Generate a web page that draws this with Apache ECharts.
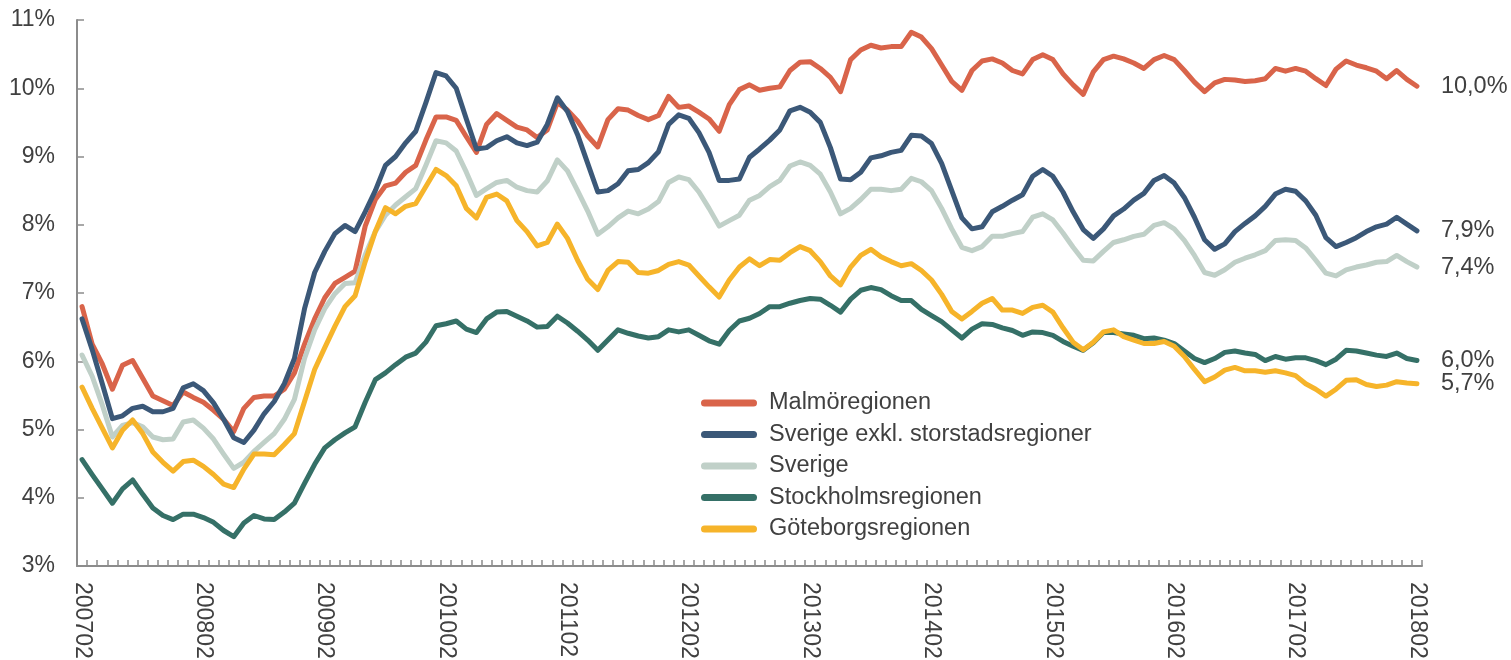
<!DOCTYPE html>
<html>
<head>
<meta charset="utf-8">
<script src="https://cdn.jsdelivr.net/npm/echarts@6/dist/echarts.min.js"></script>
<style>
html,body{margin:0;padding:0;background:#fff;}
#chart{width:1511px;height:660px;}
</style>
</head>
<body>
<div id="chart"></div>
<script>
// Monthly categories 200702 .. 201802
const categories = [];
for (let y = 2007, m = 2; y < 2018 || (y === 2018 && m <= 2); ) {
  categories.push(String(y) + String(m).padStart(2, '0'));
  m++; if (m > 12) { m = 1; y++; }
}

const seriesNames = ['Malmöregionen', 'Sverige exkl. storstadsregioner', 'Sverige', 'Stockholmsregionen', 'Göteborgsregionen'];

const malmo = [
  6.80, 6.25, 5.96, 5.59, 5.94, 6.01, 5.75, 5.49, 5.42, 5.35, 5.55, 5.47, 5.40, 5.28, 5.15, 4.97,
  5.31, 5.47, 5.49, 5.49, 5.59, 5.83, 6.25, 6.62, 6.93, 7.14, 7.23, 7.32, 7.98, 8.37, 8.57, 8.61, 8.77,
  8.87, 9.24, 9.58, 9.58, 9.53, 9.29, 9.06, 9.47, 9.63, 9.53, 9.43, 9.39, 9.28, 9.39, 9.79, 9.68, 9.52,
  9.30, 9.14, 9.54, 9.70, 9.68, 9.60, 9.54, 9.60, 9.88, 9.72, 9.74, 9.65, 9.55, 9.37, 9.76, 9.98, 10.05,
  9.97, 10.00, 10.02, 10.26, 10.38, 10.39, 10.29, 10.16, 9.95, 10.42, 10.56, 10.63, 10.59, 10.61, 10.61, 10.82, 10.75,
  10.58, 10.34, 10.10, 9.97, 10.26, 10.40, 10.43, 10.37, 10.26, 10.21, 10.42, 10.49, 10.42, 10.21, 10.05, 9.91, 10.24,
  10.42, 10.47, 10.43, 10.37, 10.29, 10.42, 10.48, 10.42, 10.26, 10.09, 9.95, 10.08, 10.13, 10.12, 10.10, 10.11,
  10.14, 10.29, 10.25, 10.29, 10.25, 10.14, 10.04, 10.28, 10.40, 10.34, 10.30, 10.25, 10.14, 10.26, 10.13, 10.03
];

const exklStorstad = [
  6.62, 6.17, 5.67, 5.16, 5.20, 5.31, 5.34, 5.26, 5.26, 5.31, 5.61, 5.67, 5.57, 5.39, 5.15, 4.88,
  4.81, 4.99, 5.23, 5.41, 5.67, 6.04, 6.77, 7.30, 7.61, 7.87, 7.99, 7.90, 8.19, 8.50, 8.87, 9.00, 9.20,
  9.37, 9.79, 10.23, 10.18, 10.00, 9.55, 9.11, 9.13, 9.23, 9.29, 9.20, 9.16, 9.21, 9.47, 9.86, 9.66, 9.32,
  8.90, 8.48, 8.50, 8.60, 8.79, 8.81, 8.91, 9.07, 9.47, 9.61, 9.56, 9.35, 9.06, 8.65, 8.65, 8.67, 8.99,
  9.11, 9.24, 9.39, 9.67, 9.72, 9.65, 9.50, 9.13, 8.67, 8.66, 8.77, 8.98, 9.01, 9.06, 9.09, 9.31, 9.30,
  9.19, 8.90, 8.50, 8.10, 7.94, 7.97, 8.19, 8.27, 8.36, 8.44, 8.71, 8.81, 8.71, 8.48, 8.19, 7.93, 7.80,
  7.94, 8.13, 8.23, 8.36, 8.46, 8.65, 8.72, 8.61, 8.40, 8.11, 7.78, 7.64, 7.72, 7.90, 8.02, 8.13,
  8.27, 8.45, 8.52, 8.49, 8.35, 8.14, 7.81, 7.68, 7.74, 7.81, 7.90, 7.97, 8.01, 8.11, 8.01, 7.91
];

const sverige = [
  6.09, 5.78, 5.36, 4.89, 5.06, 5.10, 5.04, 4.89, 4.85, 4.86, 5.11, 5.14, 5.02, 4.86, 4.64, 4.43,
  4.52, 4.68, 4.81, 4.94, 5.15, 5.44, 6.04, 6.46, 6.77, 6.99, 7.14, 7.15, 7.56, 7.90, 8.14, 8.29, 8.41,
  8.53, 8.87, 9.23, 9.20, 9.08, 8.77, 8.43, 8.53, 8.62, 8.65, 8.55, 8.50, 8.48, 8.64, 8.95, 8.79, 8.50,
  8.20, 7.86, 7.97, 8.10, 8.20, 8.16, 8.23, 8.34, 8.62, 8.70, 8.66, 8.48, 8.24, 7.98, 8.06, 8.14, 8.36,
  8.43, 8.56, 8.65, 8.86, 8.92, 8.87, 8.74, 8.48, 8.16, 8.24, 8.37, 8.52, 8.52, 8.50, 8.52, 8.68, 8.63,
  8.50, 8.24, 7.94, 7.67, 7.62, 7.68, 7.83, 7.83, 7.87, 7.90, 8.11, 8.16, 8.07, 7.88, 7.67, 7.48, 7.47,
  7.61, 7.74, 7.78, 7.83, 7.86, 7.99, 8.03, 7.94, 7.77, 7.55, 7.30, 7.26, 7.34, 7.45, 7.51, 7.56,
  7.62, 7.77, 7.78, 7.77, 7.66, 7.48, 7.29, 7.25, 7.34, 7.38, 7.41, 7.45, 7.46, 7.55, 7.46, 7.38
];

const stockholm = [
  4.56, 4.34, 4.13, 3.92, 4.13, 4.26, 4.05, 3.85, 3.74, 3.68, 3.76, 3.76, 3.71, 3.64, 3.52, 3.43,
  3.63, 3.74, 3.69, 3.68, 3.79, 3.92, 4.21, 4.49, 4.73, 4.85, 4.95, 5.04, 5.40, 5.73, 5.83, 5.95, 6.06,
  6.12, 6.28, 6.52, 6.55, 6.59, 6.47, 6.42, 6.62, 6.72, 6.73, 6.66, 6.59, 6.50, 6.51, 6.66, 6.56, 6.44,
  6.31, 6.16, 6.31, 6.46, 6.41, 6.37, 6.34, 6.36, 6.46, 6.43, 6.46, 6.38, 6.30, 6.25, 6.45, 6.59, 6.63,
  6.70, 6.80, 6.80, 6.85, 6.89, 6.92, 6.91, 6.82, 6.72, 6.91, 7.04, 7.08, 7.05, 6.96, 6.89, 6.89, 6.76,
  6.67, 6.58, 6.46, 6.34, 6.47, 6.55, 6.54, 6.49, 6.45, 6.38, 6.43, 6.42, 6.38, 6.29, 6.22, 6.16, 6.27,
  6.42, 6.42, 6.40, 6.38, 6.33, 6.34, 6.31, 6.26, 6.15, 6.04, 5.98, 6.04, 6.13, 6.15, 6.12, 6.10,
  6.01, 6.07, 6.03, 6.05, 6.05, 6.01, 5.95, 6.03, 6.16, 6.15, 6.12, 6.09, 6.07, 6.12, 6.04, 6.01
];

const goteborg = [
  5.62, 5.31, 5.02, 4.73, 4.99, 5.14, 4.94, 4.67, 4.52, 4.39, 4.53, 4.55, 4.46, 4.34, 4.20, 4.15,
  4.42, 4.64, 4.64, 4.63, 4.78, 4.94, 5.41, 5.88, 6.20, 6.51, 6.80, 6.96, 7.46, 7.90, 8.25, 8.16, 8.27,
  8.31, 8.56, 8.81, 8.72, 8.57, 8.24, 8.10, 8.40, 8.45, 8.35, 8.06, 7.90, 7.69, 7.74, 8.01, 7.80, 7.48,
  7.20, 7.05, 7.33, 7.46, 7.45, 7.30, 7.29, 7.33, 7.42, 7.46, 7.41, 7.25, 7.09, 6.94, 7.19, 7.38, 7.50,
  7.40, 7.49, 7.48, 7.59, 7.68, 7.62, 7.46, 7.25, 7.12, 7.38, 7.55, 7.64, 7.53, 7.46, 7.40, 7.43, 7.33,
  7.19, 6.98, 6.73, 6.62, 6.73, 6.85, 6.92, 6.75, 6.75, 6.70, 6.79, 6.82, 6.72, 6.49, 6.28, 6.17, 6.28,
  6.43, 6.46, 6.36, 6.31, 6.26, 6.26, 6.29, 6.22, 6.07, 5.88, 5.70, 5.77, 5.87, 5.91, 5.86, 5.86,
  5.84, 5.86, 5.83, 5.79, 5.67, 5.59, 5.49, 5.59, 5.72, 5.73, 5.66, 5.63, 5.65, 5.70, 5.68, 5.67
];

const seriesData = [malmo, exklStorstad, sverige, stockholm, goteborg];
const colors = ['#D9644A', '#3B5878', '#C0D0C8', '#357067', '#F6B42A'];

const FONT = '"Liberation Sans", Arial, Helvetica, sans-serif';
const TEXT = '#404040';
const AXIS = '#8C8C8C';

const chart = echarts.init(document.getElementById('chart'), null, { renderer: 'canvas' });

const option = {
  animation: false,
  backgroundColor: '#ffffff',
  textStyle: { fontFamily: FONT },
  grid: { left: 77, right: 89, top: 20, bottom: 94, containLabel: false, outerBoundsMode: 'none' },
  legend: {
    orient: 'vertical',
    left: 696,
    top: 385,
    itemWidth: 56,
    itemHeight: 7,
    itemGap: 5.5,
    icon: 'path://M3.5,0 L52.5,0 A3.5,3.5 0 0 1 52.5,7 L3.5,7 A3.5,3.5 0 0 1 3.5,0 Z',
    textStyle: { fontSize: 23.5, color: TEXT, fontFamily: FONT, lineHeight: 26, padding: [0, 0, 0, 7] },
    data: seriesNames
  },
  xAxis: {
    type: 'category',
    data: categories,
    boundaryGap: true,
    axisLine: { lineStyle: { color: AXIS, width: 2 } },
    axisTick: { show: true, inside: true, interval: 0, length: 6, lineStyle: { color: AXIS, width: 1.5 } },
    axisLabel: { interval: 11, rotate: -90, margin: 16, fontSize: 23, color: TEXT, fontFamily: FONT },
    splitLine: { show: false }
  },
  yAxis: {
    type: 'value',
    min: 3,
    max: 11,
    interval: 1,
    axisLine: { show: true, lineStyle: { color: AXIS, width: 2 } },
    axisTick: { show: true, inside: true, length: 7, lineStyle: { color: AXIS, width: 1.5 } },
    axisLabel: { formatter: '{value}%', margin: 22, fontSize: 23, color: TEXT, fontFamily: FONT },
    splitLine: { show: false }
  },
  series: seriesNames.map((name, k) => ({
    name: name,
    type: 'line',
    data: seriesData[k],
    symbol: 'none',
    smooth: false,
    color: colors[k],
    lineStyle: { width: 5, color: colors[k], cap: 'round', join: 'round' },
    endLabel: {
      show: true,
      distance: 24,
      fontSize: 23.5,
      color: TEXT,
      fontFamily: FONT,
      formatter: p => p.value.toFixed(1).replace('.', ',') + '%'
    },
    emphasis: { disabled: true }
  }))
};

chart.setOption(option);
</script>
</body>
</html>
